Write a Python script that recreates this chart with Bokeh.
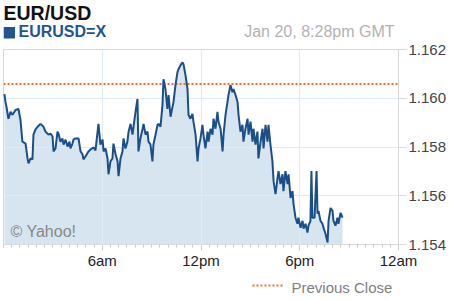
from bokeh.plotting import figure
from bokeh.layouts import column
from bokeh.models import (Range1d, FixedTicker, Span, Label, ColumnDataSource)
from bokeh.embed import file_html
from bokeh.resources import INLINE

# ---- data ----
hours = [0.06, 0.12, 0.18, 0.30, 0.43, 0.55, 0.73, 0.91, 1.03, 1.15, 1.34, 1.46, 1.52, 1.64, 1.76,
         1.82, 1.94, 2.07, 2.25, 2.43, 2.55, 2.73, 2.86, 2.98, 3.04, 3.16, 3.28, 3.34, 3.46, 3.58,
         3.65, 3.77, 3.89, 4.01, 4.07, 4.19, 4.25, 4.37, 4.56, 4.68, 4.80, 4.86, 4.98, 5.16, 5.29,
         5.47, 5.59, 5.77, 5.89, 6.02, 6.08, 6.20, 6.32, 6.38, 6.50, 6.62, 6.68, 6.81, 6.93, 6.99,
         7.11, 7.23, 7.29, 7.41, 7.53, 7.60, 7.72, 7.84, 7.90, 8.02, 8.14, 8.20, 8.32, 8.45, 8.51,
         8.63, 8.75, 8.81, 8.93, 9.05, 9.11, 9.24, 9.36, 9.42, 9.54, 9.66, 9.72, 9.84, 9.96, 10.03,
         10.15, 10.33, 10.45, 10.57, 10.63, 10.75, 10.88, 10.94, 11.06, 11.18, 11.24, 11.36, 11.48,
         11.54, 11.67, 11.79, 11.85, 11.97, 12.09, 12.15, 12.27, 12.40, 12.46, 12.58, 12.70, 12.76,
         12.88, 13.00, 13.06, 13.19, 13.31, 13.37, 13.49, 13.61, 13.67, 13.79, 13.91, 13.97, 14.10,
         14.22, 14.28, 14.40, 14.52, 14.58, 14.70, 14.83, 14.89, 15.01, 15.13, 15.19, 15.31, 15.43,
         15.49, 15.62, 15.74, 15.80, 15.92, 16.04, 16.10, 16.22, 16.34, 16.41, 16.53, 16.65, 16.71,
         16.83, 16.95, 17.01, 17.13, 17.26, 17.32, 17.44, 17.56, 17.62, 17.74, 17.86, 17.92, 18.05,
         18.17, 18.23, 18.35, 18.47, 18.53, 18.65, 18.71, 18.77, 18.90, 19.02, 19.08, 19.14, 19.26,
         19.38, 19.44, 19.56, 19.69, 19.75, 19.87, 19.99, 20.05, 20.17, 20.29, 20.35, 20.48, 20.60]

prices = [1.16017, 1.15985, 1.15965, 1.15916, 1.15944, 1.15932, 1.15952, 1.15956, 1.15912, 1.15822,
          1.15814, 1.15753, 1.15733, 1.15753, 1.15749, 1.15851, 1.15871, 1.15883, 1.15895, 1.15883,
          1.15863, 1.15851, 1.15855, 1.15843, 1.15782, 1.15794, 1.15863, 1.15855, 1.15822, 1.15835,
          1.15810, 1.15830, 1.15802, 1.15822, 1.15794, 1.15814, 1.15830, 1.15835, 1.15835, 1.15782,
          1.15770, 1.15749, 1.15761, 1.15782, 1.15790,
          1.15798, 1.15786, 1.15895, 1.15810, 1.15830, 1.15782, 1.15794, 1.15753, 1.15688, 1.15741,
          1.15753, 1.15814, 1.15770, 1.15741, 1.15680, 1.15753, 1.15782, 1.15835, 1.15794, 1.15822,
          1.15863, 1.15895, 1.15851, 1.15883, 1.15944, 1.15997, 1.15782, 1.15835, 1.15875, 1.15895,
          1.15851, 1.15863, 1.15822, 1.15810, 1.15741, 1.15810, 1.15851, 1.15891, 1.15895, 1.15883,
          1.15973, 1.16078, 1.16038, 1.15956, 1.16013, 1.15924,
          1.15985, 1.16054, 1.16107, 1.16119, 1.16135, 1.16147, 1.16139, 1.16094, 1.16038, 1.15932,
          1.15916, 1.15936, 1.15904, 1.15851, 1.15741, 1.15794, 1.15835, 1.15891, 1.15851, 1.15794,
          1.15863, 1.15822, 1.15875, 1.15851, 1.15916, 1.15875, 1.15944, 1.15904, 1.15875, 1.15782,
          1.15851, 1.15932, 1.15985, 1.16013, 1.16054, 1.16025, 1.16038, 1.16013, 1.15985, 1.15932,
          1.15863, 1.15891, 1.15822, 1.15875, 1.15916, 1.15851, 1.15904, 1.15822, 1.15875, 1.15810,
          1.15863, 1.15753,
          1.15822, 1.15875, 1.15794, 1.15891, 1.15822, 1.15891, 1.15810, 1.15741, 1.15660, 1.15607,
          1.15672, 1.15701, 1.15648, 1.15688, 1.15619, 1.15701, 1.15648, 1.15688, 1.15591, 1.15619,
          1.15567, 1.15510, 1.15485, 1.15510, 1.15469, 1.15497, 1.15465, 1.15485, 1.15449, 1.15477,
          1.15497, 1.15701, 1.15510, 1.15510, 1.15701, 1.15526, 1.15538, 1.15497, 1.15485, 1.15469,
          1.15445, 1.15408, 1.15497, 1.15550, 1.15538, 1.15497, 1.15477, 1.15510, 1.15485, 1.15530,
          1.15510]

previous_close = 1.16058
symbol = "EURUSD=X"
title_text = "EUR/USD"
timestamp_text = "Jan 20, 8:28pm GMT"
legend_text = "Previous Close"
credit_text = "© Yahoo!"
x_ticks = [6, 12, 18, 24]
x_tick_labels = ["6am", "12pm", "6pm", "12am"]
x_minor = [i * 0.5 for i in range(49)]
y_ticks = [1.154, 1.156, 1.158, 1.160, 1.162]
y_tick_labels = ["1.154", "1.156", "1.158", "1.160", "1.162"]

FONT = "Liberation Sans"
LINE_BLUE = "#1b4f8a"
FILL_BLUE = "#d7e5f1"
GRID = "#e3ebf2"
ORANGE = "#f26d2d"
SYM_BLUE = "#1f5592"

# frame of the chart (canvas pixels): left 3, right 398, top 49, bottom 244
FR_L, FR_R, FR_T, FR_B = 3, 398, 49, 244
HEAD_H = 40
FOOT_H = 28
MAIN_H = 300 - HEAD_H - FOOT_H


def blank_figure(h):
    # the column aligns this frame with the chart frame (x from FR_L to FR_R)
    f = figure(width=450, height=h, x_range=Range1d(FR_L, FR_R), y_range=Range1d(h, 0),
               output_backend="svg", toolbar_location=None, x_axis_type=None, y_axis_type=None,
               min_border=0, min_border_left=FR_L, min_border_right=450 - FR_R,
               min_border_top=0, min_border_bottom=0, outline_line_color=None)
    f.xgrid.visible = False
    f.ygrid.visible = False
    return f


# ---------------- header (title rows) ----------------
head = blank_figure(HEAD_H)
head.add_layout(Label(x=3, y=12, text=title_text, text_font=FONT, text_font_size="19.5px",
                      text_font_style="bold", text_color="#111111", text_baseline="middle"))
head.add_layout(Label(x=394, y=31, text=timestamp_text, text_font=FONT, text_font_size="16px",
                      text_color="#b3b3b3", text_align="right", text_baseline="middle"))
head.quad(left=[3], right=[14.5], top=[26.5], bottom=[38], fill_color=SYM_BLUE, line_color=None)
head.add_layout(Label(x=18, y=31, text=symbol, text_font=FONT, text_font_size="16px",
                      text_font_style="bold", text_color=SYM_BLUE, text_baseline="middle"))

# ---------------- main chart ----------------
src = ColumnDataSource(dict(h=hours, p=prices, base=[y_ticks[0]] * len(hours)))

p = figure(width=450, height=MAIN_H, x_range=Range1d(0, 24),
           y_range=Range1d(y_ticks[0], y_ticks[-1]),
           output_backend="svg", toolbar_location=None, y_axis_location="right",
           min_border_left=FR_L, min_border_right=450 - FR_R, min_border_top=FR_T - HEAD_H,
           min_border_bottom=HEAD_H + MAIN_H - FR_B,
           background_fill_color="white", border_fill_color="white")
p.outline_line_color = "#d8d8d8"
p.outline_line_width = 1

p.xgrid.ticker = FixedTicker(ticks=x_ticks[:-1])
p.ygrid.ticker = FixedTicker(ticks=y_ticks[1:-1])
for g in (p.xgrid[0], p.ygrid[0]):
    g.grid_line_color = GRID
    g.level = "annotation"

xa = p.xaxis[0]
xa.ticker = FixedTicker(ticks=x_ticks, minor_ticks=x_minor)
xa.major_label_overrides = {t: l for t, l in zip(x_ticks, x_tick_labels)}
xa.axis_line_color = None
xa.major_tick_line_color = "#cccccc"
xa.minor_tick_line_color = "#cccccc"
xa.major_tick_in = 0
xa.major_tick_out = 6
xa.minor_tick_in = 0
xa.minor_tick_out = 3
xa.major_label_standoff = 1
xa.major_label_text_font = FONT
xa.major_label_text_font_size = "15px"
xa.major_label_text_color = "#222222"

ya = p.yaxis[0]
ya.ticker = FixedTicker(ticks=y_ticks, minor_ticks=[])
ya.major_label_overrides = {t: l for t, l in zip(y_ticks, y_tick_labels)}
ya.axis_line_color = "#d8d8d8"
ya.major_tick_line_color = "#dcdcdc"
ya.major_tick_in = 0
ya.major_tick_out = 8
ya.major_label_standoff = 2
ya.major_label_text_font = FONT
ya.major_label_text_font_size = "15px"
ya.major_label_text_color = "#444444"

p.varea(x="h", y1="base", y2="p", source=src, fill_color=FILL_BLUE)
p.add_layout(Span(location=previous_close, dimension="width", line_color=ORANGE,
                  line_width=2, line_dash="2 2"))
p.line(x="h", y="p", source=src, line_color=LINE_BLUE, line_width=2, level="overlay")

p.add_layout(Label(x=7, y=13, x_units="screen", y_units="screen", text=credit_text,
                   text_font=FONT, text_font_size="16px", text_color="#888888",
                   text_baseline="middle"))

# ---------------- footer (legend) ----------------
foot = blank_figure(FOOT_H)
foot.segment(x0=[252], x1=[283], y0=[13], y1=[13], line_color=ORANGE, line_width=2,
             line_dash="2 2")
foot.add_layout(Label(x=291, y=15, text=legend_text, text_font=FONT, text_font_size="15px",
                      text_color="#808080", text_baseline="middle"))

layout = column(head, p, foot, spacing=0)
open("out.html", "w").write(file_html(layout, INLINE))
